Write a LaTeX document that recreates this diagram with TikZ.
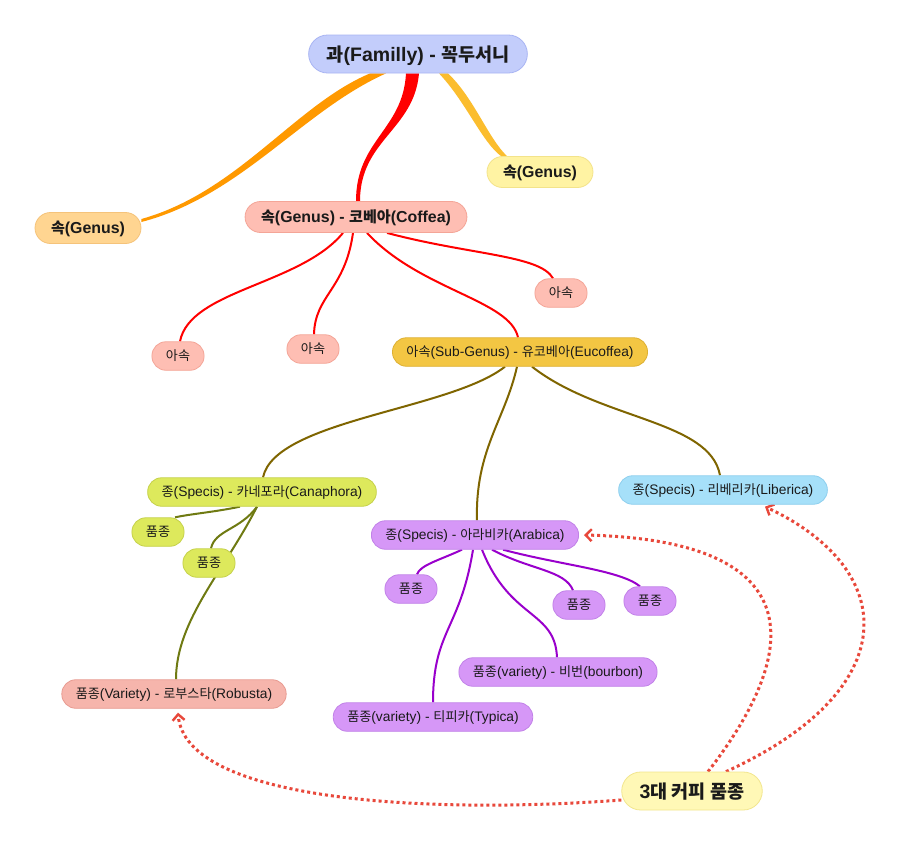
\documentclass[tikz,border=0pt]{standalone}
\usepackage{fontspec}
\setmainfont{Liberation Sans}
\newfontfamily\krfont[Scale=0.95]{Noto Sans CJK KR}
\newcommand\hg[1]{{\krfont #1}}
\usetikzlibrary{arrows.meta,backgrounds}
\definecolor{famF}{HTML}{C3CDFB}\definecolor{famD}{HTML}{A8B4F3}
\definecolor{g1F}{HTML}{FFD591}\definecolor{g1D}{HTML}{F5C37A}
\definecolor{g2F}{HTML}{FFF3A3}\definecolor{g2D}{HTML}{F3E38A}
\definecolor{salF}{HTML}{FEBEB3}\definecolor{salD}{HTML}{F4A597}
\definecolor{euF}{HTML}{F3C643}\definecolor{euD}{HTML}{DDB032}
\definecolor{caF}{HTML}{DDE95C}\definecolor{caD}{HTML}{C5D14A}
\definecolor{roF}{HTML}{F6B5AC}\definecolor{roD}{HTML}{E89B91}
\definecolor{arF}{HTML}{D697F7}\definecolor{arD}{HTML}{C181E8}
\definecolor{liF}{HTML}{A6E0F9}\definecolor{liD}{HTML}{8ECFEE}
\definecolor{thF}{HTML}{FFF8B6}\definecolor{thD}{HTML}{F2E68E}
\definecolor{cOr}{HTML}{FF9900}
\definecolor{cRed}{HTML}{FF0000}
\definecolor{cYel}{HTML}{FBBD2E}
\definecolor{cOli}{HTML}{7F6500}
\definecolor{cGrn}{HTML}{6F7A12}
\definecolor{cPur}{HTML}{9900CC}
\definecolor{dotc}{HTML}{E8483B}
\definecolor{txt}{HTML}{1A1A1A}
\begin{document}
\begin{tikzpicture}[x=1pt,y=-1pt,
  box/.style={draw, line width=0.8pt, rounded corners=14pt, minimum height=28.5pt,
    inner xsep=14pt, inner ysep=0pt, text height=11.5pt, text depth=2pt, text=txt,
    font=\fontsize{13.8}{16}\selectfont},
  bbox/.style={box, rounded corners=15.5pt, minimum height=31pt, inner xsep=16pt,
    text height=13.5pt, text depth=2pt, font=\fontsize{15.9}{18}\selectfont\bfseries},
  big/.style={box, rounded corners=19pt, minimum height=38pt, inner xsep=18pt,
    text height=16pt, text depth=2pt, font=\fontsize{19.5}{22}\selectfont\bfseries},
  sal/.style={fill=salF, draw=salD},
  cana/.style={fill=caF, draw=caD},
  arab/.style={fill=arF, draw=arD},
  redln/.style={draw=cRed, line width=2pt},
  oliln/.style={draw=cOli, line width=2pt},
  grnln/.style={draw=cGrn, line width=2pt},
  purln/.style={draw=cPur, line width=2pt},
  dotln/.style={draw=dotc, line width=3pt, dash pattern=on 3pt off 3pt,
    -{Straight Barb[length=6pt,width=12pt,line width=2.4pt]}}
]
\useasboundingbox (0,0) rectangle (905,847);

% nodes
\node[big, fill=famF, draw=famD] (fam) at (418,54) {\hg{과}(Familly) - \hg{꼭두서니}};
\node[bbox, fill=g1F, draw=g1D] (g1) at (88,228) {\hg{속}(Genus)};
\node[bbox, fill=g2F, draw=g2D] (g2) at (540,172) {\hg{속}(Genus)};
\node[bbox, sal] (coffea) at (356,217) {\hg{속}(Genus) - \hg{코베아}(Coffea)};
\node[box, sal] (sub1) at (178,356) {\hg{아속}};
\node[box, sal] (sub2) at (313,349) {\hg{아속}};
\node[box, sal] (sub3) at (561,293) {\hg{아속}};
\node[box, fill=euF, draw=euD] (euco) at (520,352) {\hg{아속}(Sub-Genus) - \hg{유코베아}(Eucoffea)};
\node[box, cana] (cana) at (262,492) {\hg{종}(Specis) - \hg{카네포라}(Canaphora)};
\node[box, cana] (cv1) at (158,532) {\hg{품종}};
\node[box, cana] (cv2) at (209,563) {\hg{품종}};
\node[box, fill=roF, draw=roD] (robusta) at (174,694) {\hg{품종}(Variety) - \hg{로부스타}(Robusta)};
\node[box, arab] (arabica) at (475,535) {\hg{종}(Specis) - \hg{아라비카}(Arabica)};
\node[box, arab] (av1) at (411,589) {\hg{품종}};
\node[box, arab] (av2) at (579,605) {\hg{품종}};
\node[box, arab] (av3) at (650,601) {\hg{품종}};
\node[box, arab] (bourbon) at (558,672) {\hg{품종}(variety) - \hg{비번}(bourbon)};
\node[box, arab] (typica) at (433,717) {\hg{품종}(variety) - \hg{티피카}(Typica)};
\node[box, fill=liF, draw=liD] (liber) at (723,490) {\hg{종}(Specis) - \hg{리베리카}(Liberica)};
\node[big, fill=thF, draw=thD] (three) at (692,791) {3\hg{대 커피 품종}};

\begin{scope}[on background layer]
\fill[white] (0,0) rectangle (905,847);
% tapered main branches
\fill[cOr] ([xshift=-48pt]fam.south) .. controls (295,105) and (238,192) .. ([yshift=9pt]g1.east)
  -- ([yshift=6pt]g1.east) .. controls (241,196) and (302,111) .. ([xshift=-32pt]fam.south) -- cycle;
\fill[cRed] ([xshift=-12pt]fam.south) .. controls (403,130) and (356,140) .. ([xshift=0pt]coffea.north)
  -- ([xshift=4pt]coffea.north) .. controls (360,140) and (414,130) .. ([xshift=1pt]fam.south) -- cycle;
\fill[cYel] ([xshift=21pt]fam.south) .. controls (466,102) and (482,142) .. ([xshift=-39pt]g2.north)
  -- ([xshift=-33pt]g2.north) .. controls (488,138) and (474,98) .. ([xshift=30pt]fam.south) -- cycle;
% coffea children
\draw[redln] ([xshift=-13pt]coffea.south) .. controls (300,285) and (190,290) .. ([xshift=2pt]sub1.north);
\draw[redln] ([xshift=-3pt]coffea.south) .. controls (345,290) and (315,295) .. ([xshift=1pt]sub2.north);
\draw[redln] ([xshift=11pt]coffea.south) .. controls (420,290) and (510,300) .. ([xshift=-2pt]euco.north);
\draw[redln] ([xshift=31pt]coffea.south) .. controls (470,255) and (540,255) .. ([xshift=-8pt]sub3.north);
% eucoffea children
\draw[oliln] ([xshift=-15pt]euco.south) .. controls (450,410) and (275,420) .. ([xshift=1pt]cana.north);
\draw[oliln] ([xshift=-3pt]euco.south) .. controls (505,420) and (475,450) .. ([xshift=2pt]arabica.north);
\draw[oliln] ([xshift=12pt]euco.south) .. controls (600,420) and (710,420) .. ([xshift=-3pt]liber.north);
% canaphora children
\draw[grnln] ([xshift=-22pt]cana.south) .. controls (215,512) and (190,514) .. ([xshift=17pt]cv1.north);
\draw[grnln] ([xshift=-5pt]cana.south) .. controls (240,530) and (215,530) .. ([xshift=2pt]cv2.north);
\draw[grnln] ([xshift=-5pt]cana.south) .. controls (225,570) and (176,620) .. ([xshift=2pt]robusta.north);
% arabica children
\draw[purln] ([xshift=-13pt]arabica.south) .. controls (440,560) and (420,565) .. ([xshift=6pt]av1.north);
\draw[purln] ([xshift=-2pt]arabica.south) .. controls (460,630) and (433,630) .. (typica.north);
\draw[purln] ([xshift=7pt]arabica.south) .. controls (510,620) and (555,610) .. ([xshift=-1pt]bourbon.north);
\draw[purln] ([xshift=17pt]arabica.south) .. controls (530,570) and (565,570) .. ([xshift=-6pt]av2.north);
\draw[purln] ([xshift=28pt]arabica.south) .. controls (560,565) and (620,570) .. ([xshift=-10pt]av3.north);
% dotted relations
\draw[dotln] ([xshift=16pt]three.north) .. controls (810,640) and (800,540) .. ([xshift=5pt]arabica.east);
\draw[dotln] ([xshift=34pt]three.north) .. controls (905,690) and (900,570) .. ([xshift=42pt,yshift=-2pt]liber.south);
\draw[dotln] ([yshift=-9pt]three.west) .. controls (420,815) and (185,800) .. ([xshift=4pt,yshift=-4pt]robusta.south);
\end{scope}
\end{tikzpicture}
\end{document}
